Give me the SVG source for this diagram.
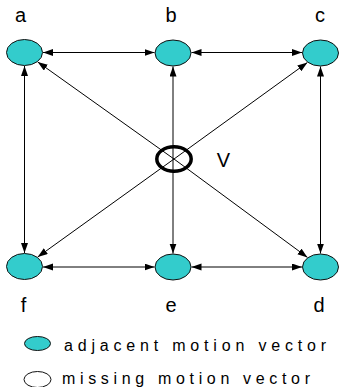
<svg xmlns="http://www.w3.org/2000/svg" width="339" height="387" viewBox="0 0 339 387">
<style>
.node{fill:#33CCCC;stroke:#111;stroke-width:1}
.lbl{font-family:"Liberation Sans",Arial,sans-serif;font-size:20px;fill:#000;text-anchor:middle}
.leg{font-family:"Liberation Sans",Arial,sans-serif;font-size:16px;fill:#000}
.c{stroke:#000;stroke-width:1;fill:none}
.s{marker-end:url(#ah)}
.d{marker-start:url(#ah);marker-end:url(#ah)}
</style>
<defs>
<marker id="ah" markerUnits="userSpaceOnUse" markerWidth="11" markerHeight="8" refX="10" refY="3.5" orient="auto-start-reverse">
<path d="M0,0 L10,3.5 L0,7 z" fill="#000"/>
</marker>
</defs>
<rect width="339" height="387" fill="#fff"/>
<g id="connectors">
<line class="c d" x1="43" y1="52.5" x2="154.5" y2="52.5"/>
<line class="c d" x1="191.5" y1="52.5" x2="302" y2="52.5"/>
<line class="c d" x1="43" y1="267" x2="154.5" y2="267"/>
<line class="c d" x1="191.5" y1="267" x2="302" y2="267"/>
<line class="c d" x1="24.5" y1="66" x2="24.5" y2="253"/>
<line class="c d" x1="320.5" y1="66.5" x2="320.5" y2="253.5"/>
<line class="c s" x1="173" y1="159" x2="173" y2="66.5"/>
<line class="c s" x1="173" y1="159" x2="173" y2="253.5"/>
<line class="c s" x1="174" y1="159" x2="37.7" y2="61.9"/>
<line class="c s" x1="174" y1="159" x2="307.4" y2="62.5"/>
<line class="c s" x1="174" y1="159" x2="37.7" y2="257"/>
<line class="c s" x1="174" y1="159" x2="307.5" y2="257.4"/>
</g>
<g id="a"><ellipse class="node" cx="24.5" cy="52.5" rx="18" ry="13"/><text class="lbl" x="20.5" y="22">a</text></g>
<g id="b"><ellipse class="node" cx="173" cy="53" rx="18" ry="13"/><text class="lbl" x="171" y="22">b</text></g>
<g id="c"><ellipse class="node" cx="320.5" cy="53" rx="18" ry="13"/><text class="lbl" x="320" y="22">c</text></g>
<g id="f"><ellipse class="node" cx="24.5" cy="266.5" rx="18" ry="13"/><text class="lbl" x="23.5" y="312">f</text></g>
<g id="e"><ellipse class="node" cx="173" cy="267" rx="18" ry="13"/><text class="lbl" x="171" y="312">e</text></g>
<g id="d"><ellipse class="node" cx="320.5" cy="267" rx="18" ry="13"/><text class="lbl" x="319" y="312">d</text></g>
<g id="V"><ellipse cx="174" cy="159" rx="17.2" ry="12.2" fill="none" stroke="#000" stroke-width="3.5"/><text class="lbl" x="223.5" y="167">V</text></g>
<g id="legend">
<ellipse class="node" cx="37.5" cy="343.5" rx="13" ry="7"/>
<text class="leg" x="64" y="351" textLength="262" lengthAdjust="spacing">adjacent motion vector</text>
<ellipse cx="37.5" cy="379.5" rx="13.5" ry="8" fill="#fff" stroke="#111" stroke-width="1"/>
<text class="leg" x="62" y="384" textLength="248" lengthAdjust="spacing">missing motion vector</text>
</g>
</svg>
